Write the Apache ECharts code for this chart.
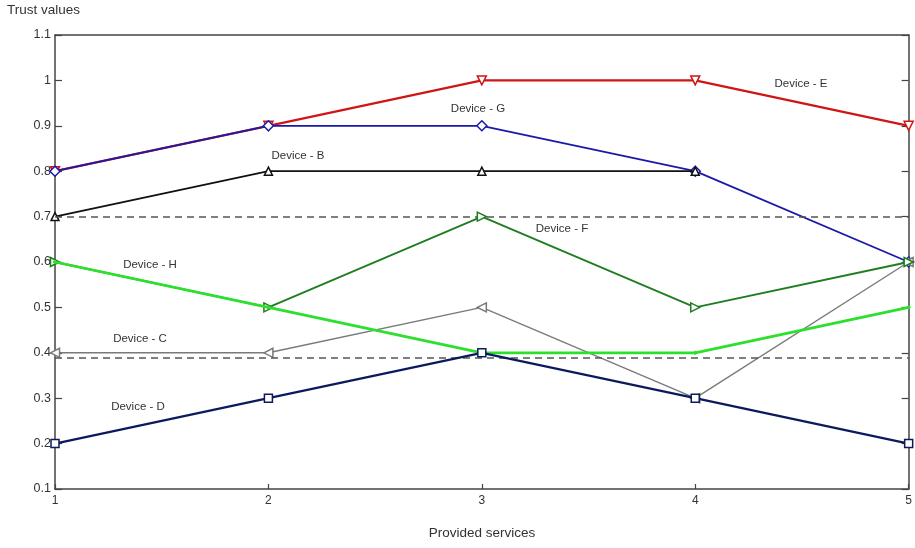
<!DOCTYPE html>
<html>
<head>
<meta charset="utf-8">
<script src="https://cdn.jsdelivr.net/npm/echarts@6/dist/echarts.min.js"></script>
<style>html,body{margin:0;padding:0;background:#fff;}#c{width:915px;height:548px;}</style>
</head>
<body>
<div id="c"></div>
<script>
const services = [1, 2, 3, 4, 5];
const deviceE = [0.8, 0.9, 1.0, 1.0, 0.9];
const deviceG = [0.8, 0.9, 0.9, 0.8, 0.6];
const deviceB = [0.7, 0.8, 0.8, 0.8, null];
const deviceF = [0.6, 0.5, 0.7, 0.5, 0.6];
const deviceH = [0.6, 0.5, 0.4, 0.4, 0.5];
const deviceC = [0.4, 0.4, 0.5, 0.3, 0.6];
const deviceD = [0.2, 0.3, 0.4, 0.3, 0.2];
const thresholds = [0.7, 0.39];
const labels = [
  {text: 'Device - E', x: 801, y: 84},
  {text: 'Device - G', x: 478, y: 109},
  {text: 'Device - B', x: 298, y: 156},
  {text: 'Device - F', x: 562, y: 229},
  {text: 'Device - H', x: 150, y: 265},
  {text: 'Device - C', x: 140, y: 339},
  {text: 'Device - D', x: 138, y: 407}
];

const font = 'Liberation Sans, Arial, sans-serif';
function pts(arr){ return services.map((s,i)=>[s, arr[i]]); }
function mk(name, data, color, width, symbol, rot, size, z){
  return {
    name, type: 'line', data: pts(data), z: z,
    lineStyle: {color, width},
    symbol, symbolRotate: rot, symbolSize: size,
    itemStyle: {color: '#fff', borderColor: color, borderWidth: 1.5},
    emphasis: {disabled: true}, animation: false, connectNulls: false
  };
}
const axisLine = {show: true, lineStyle: {color: '#444', width: 1.5}};
const chart = echarts.init(document.getElementById('c'));
const series = [
  mk('Device - E', deviceE, '#d01515', 2.2, 'triangle', 180, 9, 2),
  mk('Device - G', deviceG, '#1a1aaa', 1.8, 'diamond', 0, 10, 3),
  mk('Device - B', deviceB, '#111111', 1.8, 'triangle', 0, 8, 4),
  mk('Device - F', deviceF, '#1e7d1e', 1.8, 'triangle', -90, 9, 5),
  mk('Device - H', deviceH, '#2ee02e', 2.8, 'circle', 0, 3, 6),
  mk('Device - C', deviceC, '#7a7a7a', 1.4, 'triangle', 90, 9, 4),
  mk('Device - D', deviceD, '#0c1a5c', 2.2, 'rect', 0, 8, 7)
];
series[0].markLine = {
  silent: true, symbol: 'none', animation: false,
  label: {show: false},
  lineStyle: {color: '#555', type: [7, 5], width: 1.5},
  data: thresholds.map(v => ({yAxis: v}))
};
series[4].itemStyle = {color: '#2ee02e', borderColor: '#2ee02e', borderWidth: 1};
chart.setOption({
  backgroundColor: '#fff',
  animation: false,
  grid: {left: 55, right: 6, top: 35, bottom: 59, show: false},
  xAxis: [
    {type: 'value', min: 1, max: 5, interval: 1, axisLine,
      axisTick: {show: true, inside: true, length: 5, lineStyle: {color: '#444', width: 1.2}},
      axisLabel: {color: '#333', fontFamily: font, fontSize: 12, margin: 6},
      splitLine: {show: false}},
    {type: 'value', position: 'top', min: 1, max: 5, interval: 1, axisLine,
      axisTick: {show: false}, axisLabel: {show: false}, splitLine: {show: false}}
  ],
  yAxis: [
    {type: 'value', min: 0.1, max: 1.1, interval: 0.1, axisLine,
      axisTick: {show: true, inside: true, length: 7, lineStyle: {color: '#444', width: 1.2}},
      axisLabel: {color: '#333', fontFamily: font, fontSize: 12.5, margin: 4,
        formatter: v => String(+v.toFixed(1))},
      splitLine: {show: false}},
    {type: 'value', position: 'right', min: 0.1, max: 1.1, interval: 0.1, axisLine,
      axisTick: {show: true, inside: true, length: 7, lineStyle: {color: '#444', width: 1.2}},
      axisLabel: {show: false}, splitLine: {show: false}}
  ],
  series,
  graphic: [
    {type: 'text', left: 7, top: 3, style: {text: 'Trust values', fill: '#333', font: '13.5px ' + font}},
    {type: 'text', x: 482, y: 533, style: {text: 'Provided services', fill: '#333', font: '13.5px ' + font, align: 'center', verticalAlign: 'middle'}}
  ].concat(labels.map(l => ({type: 'text', x: l.x, y: l.y, z: 100,
    style: {text: l.text, fill: '#333', font: '11.5px ' + font, align: 'center', verticalAlign: 'middle'}})))
});
</script>
</body>
</html>
